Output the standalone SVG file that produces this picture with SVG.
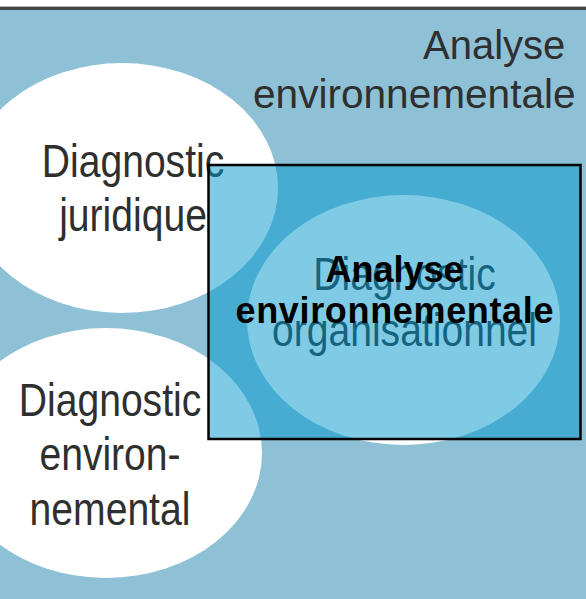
<svg xmlns="http://www.w3.org/2000/svg" width="586" height="599" viewBox="0 0 586 599">
<style>
  .bubble { fill: #ffffff; }
  .diag { font-family: "Liberation Sans", Arial, sans-serif; font-size: 46px; fill: #2f2f2f; text-anchor: middle; }
  .title { font-family: "Liberation Sans", Arial, sans-serif; fill: #2f2f2f; }
  .bold { font-family: "Liberation Sans", Arial, sans-serif; font-size: 36px; font-weight: bold; fill: #000000; text-anchor: middle; }
</style>
<g id="background">
  <rect x="0" y="0" width="586" height="599" fill="#ffffff"/>
  <rect x="0" y="6" width="586" height="1" fill="#b8b4b8"/>
  <rect x="0" y="7" width="586" height="3" fill="#444444"/>
  <rect x="0" y="10" width="586" height="589" fill="#8ec0d6"/>
</g>
<g id="title-analyse">
  <text class="title" x="423" y="58.5" font-size="40">Analyse</text>
  <text class="title" x="253" y="107.5" font-size="40.6">environnementale</text>
</g>
<g id="node-juridique">
  <ellipse class="bubble" cx="122" cy="188" rx="156" ry="125"/>
  <text class="diag" transform="translate(133,176.5) scale(0.85,1)"><tspan x="0" y="0">Diagnostic</tspan><tspan x="0" y="55">juridique</tspan></text>
</g>
<g id="node-environnemental">
  <ellipse class="bubble" cx="106" cy="453" rx="156" ry="125"/>
  <text class="diag" transform="translate(110,415.5) scale(0.85,1)"><tspan x="0" y="0">Diagnostic</tspan><tspan x="0" y="55">environ-</tspan><tspan x="0" y="110">nemental</tspan></text>
</g>
<g id="node-organisationnel">
  <ellipse class="bubble" cx="403.5" cy="320" rx="156.5" ry="125"/>
  <text class="diag" transform="translate(404.5,290) scale(0.85,1)"><tspan x="0" y="0">Diagnostic</tspan><tspan x="0" y="56">organisationnel</tspan></text>
</g>
<g id="node-analyse">
  <rect x="208.5" y="165" width="372" height="274" fill="#0097cb" fill-opacity="0.5" stroke="#000000" stroke-width="2.5"/>
  <text class="bold" x="394.5" y="282">Analyse</text>
  <text class="bold" x="394.5" y="323" textLength="318" lengthAdjust="spacing">environnementale</text>
</g>
<g id="connectors"/>
</svg>
